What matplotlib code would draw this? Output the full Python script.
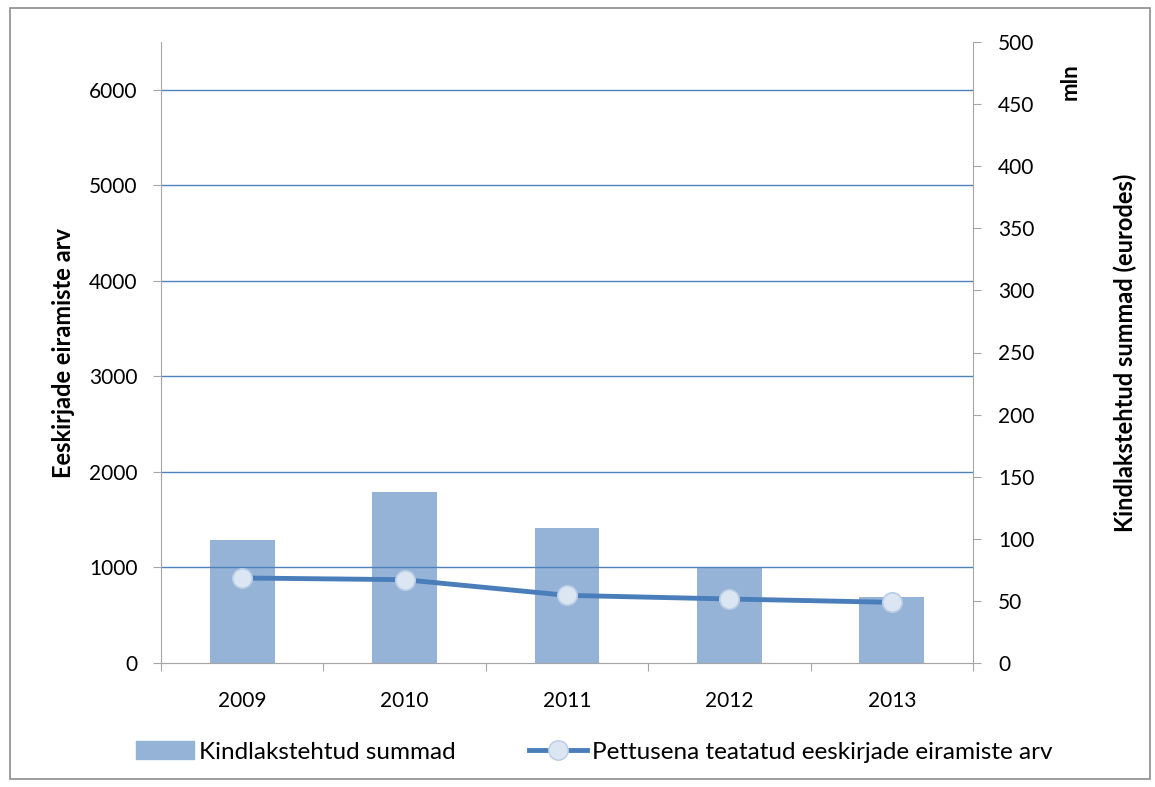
import matplotlib.pyplot as plt
from matplotlib.patches import Rectangle
import numpy as np

plt.rcParams['font.family'] = ['Lato', 'DejaVu Sans']

years = ['2009', '2010', '2011', '2012', '2013']
summad = [99, 138, 109, 77, 53]          # mln eurodes (parem telg)
eiramised = [890, 872, 708, 670, 635]    # arv (vasak telg)

bar_col = '#95B3D7'
line_col = '#4A7EBB'
grid_col = '#4F81BD'
spine_col = '#A6A6A6'

fig = plt.figure(figsize=(11.55, 7.87), dpi=100)
fig.add_artist(Rectangle((10 / 1155, 8 / 787), 1140 / 1155, 771 / 787,
                         transform=fig.transFigure, fill=False,
                         edgecolor='#8C8C8C', linewidth=1.2))

ax = fig.add_axes([161 / 1155, 1 - 663 / 787, (973 - 161) / 1155, (663 - 42) / 787])
ax2 = ax.twinx()

x = np.arange(len(years))

# tulbad parema telje jargi
ax2.bar(x, summad, width=0.4, color=bar_col, zorder=2)
ax2.set_ylim(0, 500)
ax2.set_yticks(np.arange(0, 501, 50))

# vasak telg: joon + ruudustik
ax.set_ylim(0, 6500)
ax.set_yticks(np.arange(0, 6001, 1000))
ax.set_xlim(-0.5, 4.5)
for v in range(1000, 6001, 1000):
    ax.axhline(v, color=grid_col, linewidth=1, zorder=0)

ax.set_zorder(ax2.get_zorder() + 1)
ax.patch.set_visible(False)
ax.plot(x, eiramised, color=line_col, linewidth=3.5, marker='o', markersize=14,
        markerfacecolor='#DCE6F2', markeredgecolor='#B9CDE5', markeredgewidth=1.2,
        zorder=3)

# kategooriate piiride tickid
ax.set_xticks(np.arange(-0.5, 5, 1))
ax.set_xticklabels([])
ax.set_xticks(x, minor=True)
ax.set_xticklabels(years, minor=True, fontsize=15)
ax.tick_params(axis='x', which='minor', length=0, pad=20)
ax.tick_params(axis='x', which='major', length=6, color=spine_col)
ax.tick_params(axis='y', length=6, color=spine_col, labelsize=15, pad=11)
ax2.tick_params(axis='y', length=6, color=spine_col, labelsize=15, pad=12)

for a in (ax, ax2):
    a.spines['top'].set_visible(False)
    for s in ('left', 'right', 'bottom'):
        a.spines[s].set_color(spine_col)
ax.spines['right'].set_visible(False)
ax2.spines['left'].set_visible(False)

ax.set_ylabel('Eeskirjade eiramiste arv', fontsize=17, fontweight='bold', labelpad=10)
ax2.set_ylabel('Kindlakstehtud summad (eurodes)', fontsize=17, fontweight='bold', labelpad=57)
fig.text(1070 / 1155, 1 - 82 / 787, 'mln', rotation=90, fontsize=16, fontweight='bold',
         ha='center', va='center')

# legend
h1 = Rectangle((0, 0), 1, 1, color=bar_col)
h2, = ax.plot([], [], color=line_col, linewidth=3.5, marker='o', markersize=14,
              markerfacecolor='#DCE6F2', markeredgecolor='#B9CDE5')
fig.legend([h1, h2], ['Kindlakstehtud summad', 'Pettusena teatatud eeskirjade eiramiste arv'],
           loc='center', bbox_to_anchor=(594 / 1155, 1 - 752 / 787), ncol=2,
           frameon=False, fontsize=17.5, handlelength=2.4, handletextpad=0.2,
           columnspacing=3)

fig.savefig('out.png', dpi=100)
